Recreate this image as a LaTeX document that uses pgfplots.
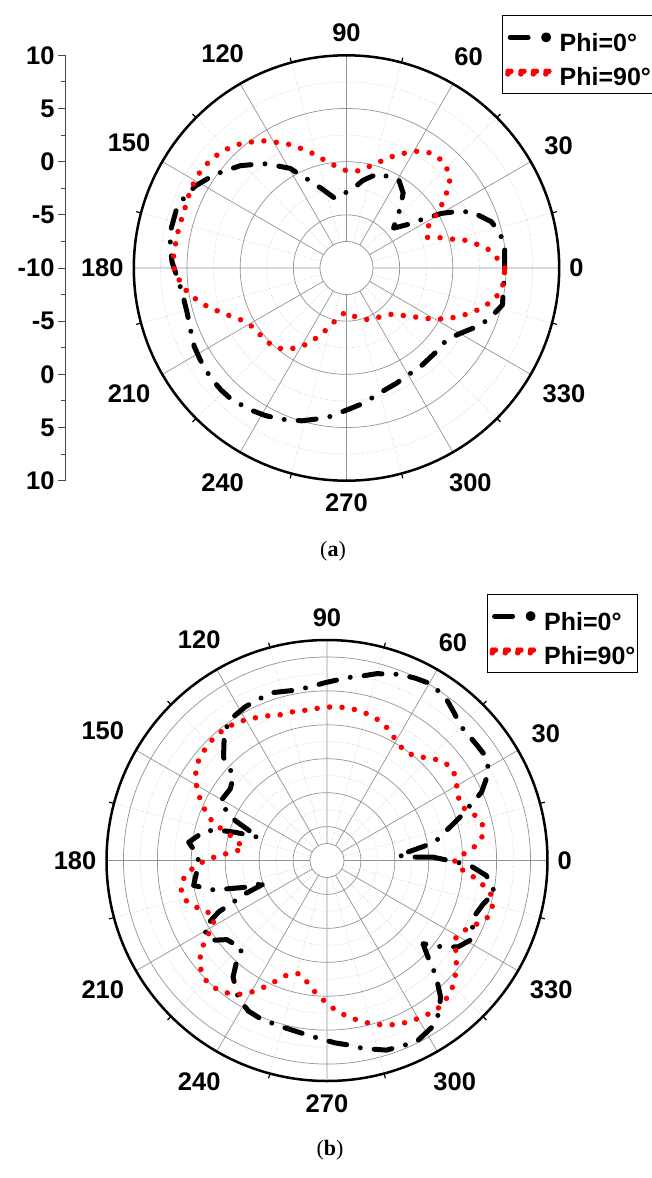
\documentclass[border=0pt]{standalone}
\usepackage{fontspec}
\setmainfont{Liberation Sans}
\newfontfamily\seriffont{Liberation Serif}
\usepackage{pgfplots}
\usepackage{pgfplotstable}
\pgfplotsset{compat=1.18}
\usepgfplotslibrary{polar}

% ---------- (a) data: angle (deg), gain (dB) ----------
\pgfplotstableread{
a db
0.0 4.88
7.5 5.00
12.8 4.80
17.7 4.30
24.2 2.90
27.2 1.60
29.9 0.31
33.1 -1.76
35.9 -3.10
40.3 -4.20
48.5 -2.30
53.0 -1.15
59.2 -0.38
71.4 -0.62
79.2 -1.59
85.1 -2.49
99.4 -3.37
106.8 -2.28
112.0 -1.27
119.5 0.76
124.1 1.60
128.5 2.55
136.1 3.87
140.7 4.53
145.1 5.26
151.6 6.18
156.5 6.64
161.2 6.91
168.4 6.92
173.1 6.69
177.9 6.42
186.4 5.73
189.7 5.60
195.3 5.56
202.2 5.80
207.3 6.11
212.1 6.24
219.1 6.43
224.1 6.45
229.0 6.43
236.4 6.08
241.1 5.84
246.3 5.52
253.7 4.97
258.6 4.49
263.7 4.05
272.1 3.18
277.8 2.77
283.4 2.25
293.5 1.81
300.0 1.60
306.5 1.60
317.1 1.55
324.3 1.59
329.7 2.27
336.9 3.69
341.5 4.38
346.7 5.07
360.0 4.88
}\blackA

\pgfplotstableread{
a db
0.0 4.88
3.7 4.19
7.5 3.43
10.4 2.43
13.4 1.37
15.3 0.30
18.0 -0.77
20.8 -1.89
26.5 -1.52
30.1 -0.39
33.5 0.72
36.3 1.59
39.5 2.59
43.7 3.22
48.6 3.52
54.1 3.37
58.5 2.89
62.8 2.17
67.1 1.45
71.8 0.60
76.7 -0.13
82.7 -0.79
89.9 -0.86
96.4 -0.33
102.0 0.43
106.4 1.23
110.8 2.02
114.8 2.80
119.0 3.50
122.6 4.20
126.7 4.80
130.8 5.39
134.8 5.83
139.0 6.16
143.0 6.36
147.1 6.46
151.1 6.43
155.5 6.32
159.4 6.20
163.8 6.18
167.9 6.21
172.4 6.24
176.3 6.30
180.4 6.20
184.3 5.75
188.4 5.17
192.1 4.38
195.5 3.57
198.9 2.66
202.4 1.83
206.9 0.93
212.5 0.38
219.0 0.24
225.6 0.12
231.9 -0.29
237.3 -1.04
242.5 -1.92
247.2 -2.94
252.5 -4.00
258.6 -5.02
268.0 -5.83
281.7 -5.27
293.4 -4.68
305.3 -4.40
315.5 -3.84
321.0 -2.84
325.3 -1.87
328.9 -0.73
332.1 0.23
335.6 1.22
339.2 2.17
342.7 3.06
346.4 3.86
350.3 4.53
354.7 4.85
360.0 4.88
}\redA

% ---------- (b) data: angle (deg), gain (dB, outer ring = 0) ----------
\pgfplotstableread{
a g
1.8 -16.85
2.1 -19.16
4.0 -21.99
7.8 -18.69
9.6 -16.40
13.5 -14.66
18.0 -11.91
21.4 -9.65
23.8 -7.63
28.8 -5.25
33.5 -4.51
38.2 -4.62
44.9 -4.56
49.4 -3.75
53.5 -2.91
59.4 -2.29
64.1 -2.63
68.6 -3.03
75.1 -4.00
79.1 -4.79
83.4 -5.35
90.6 -6.28
95.6 -6.79
100.6 -6.96
107.7 -6.51
113.0 -6.66
118.0 -6.84
125.2 -7.31
129.9 -8.87
135.1 -10.97
137.8 -13.90
143.5 -14.76
151.6 -14.50
156.5 -17.75
161.3 -21.84
162.9 -18.34
164.1 -16.40
166.2 -14.03
172.5 -11.93
178.0 -13.56
184.4 -13.28
190.6 -12.50
194.4 -15.15
195.8 -17.16
198.4 -20.06
199.8 -23.07
202.1 -19.49
204.1 -17.13
205.4 -14.81
208.9 -11.72
214.4 -11.66
218.3 -13.69
226.0 -14.44
228.5 -12.32
231.1 -10.44
237.3 -8.34
242.5 -7.46
247.7 -7.18
254.8 -7.10
260.2 -6.88
265.6 -6.44
272.5 -5.60
276.8 -5.10
280.9 -4.29
287.4 -3.21
291.9 -3.03
296.3 -2.71
302.6 -3.51
306.3 -4.63
309.8 -6.35
313.5 -9.21
315.7 -11.46
319.1 -13.78
323.3 -11.16
326.6 -9.37
331.3 -8.24
338.9 -9.34
344.3 -8.62
349.3 -7.35
354.6 -8.91
357.7 -11.21
359.3 -13.43
361.8 -16.85
}\blackB

\pgfplotstableread{
a g
2.8 -12.28
5.4 -10.63
9.1 -9.22
13.5 -8.96
17.9 -9.88
21.8 -11.16
27.0 -10.93
31.1 -10.22
36.0 -9.54
40.5 -10.01
44.6 -11.00
48.7 -12.15
53.9 -12.78
59.3 -12.26
64.1 -11.25
68.8 -10.53
73.6 -10.12
78.5 -9.88
83.3 -9.79
88.3 -9.84
93.3 -10.01
98.0 -10.12
103.0 -10.01
107.8 -9.94
112.6 -9.41
117.3 -8.88
121.4 -8.40
125.9 -8.00
130.5 -7.88
135.3 -7.96
139.6 -8.29
143.4 -8.63
147.4 -9.47
151.4 -10.68
155.2 -12.09
158.8 -13.51
161.8 -14.91
164.3 -17.07
167.5 -18.90
172.0 -20.07
175.0 -18.43
177.3 -16.65
179.6 -14.75
182.5 -13.07
185.8 -11.51
189.9 -10.56
194.9 -10.63
199.0 -11.71
202.5 -13.25
207.6 -13.79
210.9 -12.46
213.6 -10.78
216.8 -9.18
220.2 -8.04
224.1 -7.37
228.5 -7.43
232.9 -8.04
236.8 -8.94
240.4 -10.24
243.7 -11.72
247.1 -13.24
251.0 -14.72
256.3 -15.34
261.4 -14.16
265.6 -12.74
269.8 -11.51
273.7 -10.25
277.5 -9.32
281.8 -8.31
285.8 -7.44
289.9 -6.69
293.8 -6.15
297.8 -5.75
301.9 -5.49
306.2 -5.18
310.0 -5.47
314.0 -6.04
317.6 -6.93
321.3 -8.06
324.9 -9.31
329.0 -10.35
333.5 -9.66
336.9 -8.56
340.6 -7.35
345.1 -7.19
349.0 -7.99
351.8 -9.62
354.4 -11.26
356.8 -13.01
359.7 -13.68
362.8 -12.28
}\redB

\pgfplotsset{
  lblfont/.style={font=\fontsize{25.5}{30}\selectfont\bfseries},
  blk/.style={black, line width=5pt, line cap=round, line join=round,
    dash pattern=on 18pt off 14pt on 0pt off 14pt,
    legend image code/.code={
      \draw[black, line width=5pt, line cap=round] (2.5pt,0pt) -- (21pt,0pt);
      \fill[black] (38.5pt,0pt) circle (2.4pt);}},
  rd/.style={red, line width=5.5pt, line cap=round,
    dash pattern=on 0pt off 12.5pt,
    legend image code/.code={
      \foreach \xx in {0.5,13.5,26,38.5} {\fill[red] (\xx pt,0pt) circle (2.8pt);}}},
  mypolar/.style={
    scale only axis, ymin=0,
    xtick={0,30,...,330}, minor xtick={15,45,...,345},
    grid=both,
    major grid style={draw=gray!85, line width=0.7pt},
    minor grid style={draw=gray!60, dotted, line width=0.7pt},
    axis line style={line width=2.5pt, black},
    y axis line style={draw=none},
    yticklabels={},
    every y tick/.append style={draw=none},
    every minor y tick/.append style={draw=none},
    every x tick/.append style={black, line width=1.2pt},
    tick align=inside, major tick length=0pt, minor tick length=5pt,
    xticklabel style={lblfont, inner xsep=10pt, inner ysep=13pt},
    /pgf/number format/assume math mode=true,
    legend cell align=left,
    legend style={draw=black, line width=0.8pt, inner xsep=0pt, inner ysep=3pt,
      font=\fontsize{25}{30}\selectfont\bfseries, row sep=-4pt,
      nodes={inner sep=2pt, text height=31pt, text depth=3pt},
      /tikz/every odd column/.append style={column sep=6pt},
      anchor=north west},
  },
}

\begin{document}
\begin{tikzpicture}
\useasboundingbox (0pt,0pt) rectangle (651pt,-1178pt);

% left radial scale of (a)
\begin{axis}[at={(65pt,-268pt)}, anchor=west, scale only axis,
  width=20pt, height=425.4pt, xmin=0, xmax=1, ymin=-20, ymax=20,
  hide x axis, axis y line*=left,
  ytick={-20,-15,...,20}, yticklabels={10,5,0,-5,-10,-5,0,5,10},
  minor y tick num=1, tick align=outside,
  major tick length=7pt, minor tick length=4pt,
  y axis line style={draw=gray!55!black, line width=1pt},
  every tick/.append style={gray!55!black, line width=1pt},
  yticklabel style={lblfont}]
\end{axis}

% (a)
\begin{polaraxis}[mypolar, at={(346.5pt,-268pt)}, anchor=center,
  width=425.4pt, height=425.4pt, ymax=20,
  ytick={5,10,15}, minor ytick={2.5,7.5,12.5,17.5},
  legend style={at={(0.866,1.095)}}]
\draw[gray!85, line width=0.7pt, fill=white] (axis cs:0,0) circle[radius=26.6pt];
\addplot[blk] table[x=a, y expr=\thisrow{db}+10] {\blackA};
\addlegendentry{Phi=0°}
\addplot[rd] table[x=a, y expr=\thisrow{db}+10] {\redA};
\addlegendentry{Phi=90°}
\end{polaraxis}

% (b)
\begin{polaraxis}[mypolar, at={(327pt,-860.5pt)}, anchor=center,
  width=441pt, height=441pt, ymax=32.5,
  ytick={5,10,...,30}, minor ytick={2.5,7.5,...,27.5},
  legend style={at={(0.862,1.105)}}]
\draw[gray!85, line width=0.7pt, fill=white] (axis cs:0,0) circle[radius=17pt];
\addplot[blk] table[x=a, y expr=\thisrow{g}+32.5] {\blackB};
\addlegendentry{Phi=0°}
\addplot[rd] table[x=a, y expr=\thisrow{g}+32.5] {\redB};
\addlegendentry{Phi=90°}
\end{polaraxis}

\node[font=\seriffont\fontsize{22}{26}\selectfont] at (333pt,-551pt) {(\textbf{a})};
\node[font=\seriffont\fontsize{22}{26}\selectfont] at (330pt,-1150pt) {(\textbf{b})};
\end{tikzpicture}
\end{document}
